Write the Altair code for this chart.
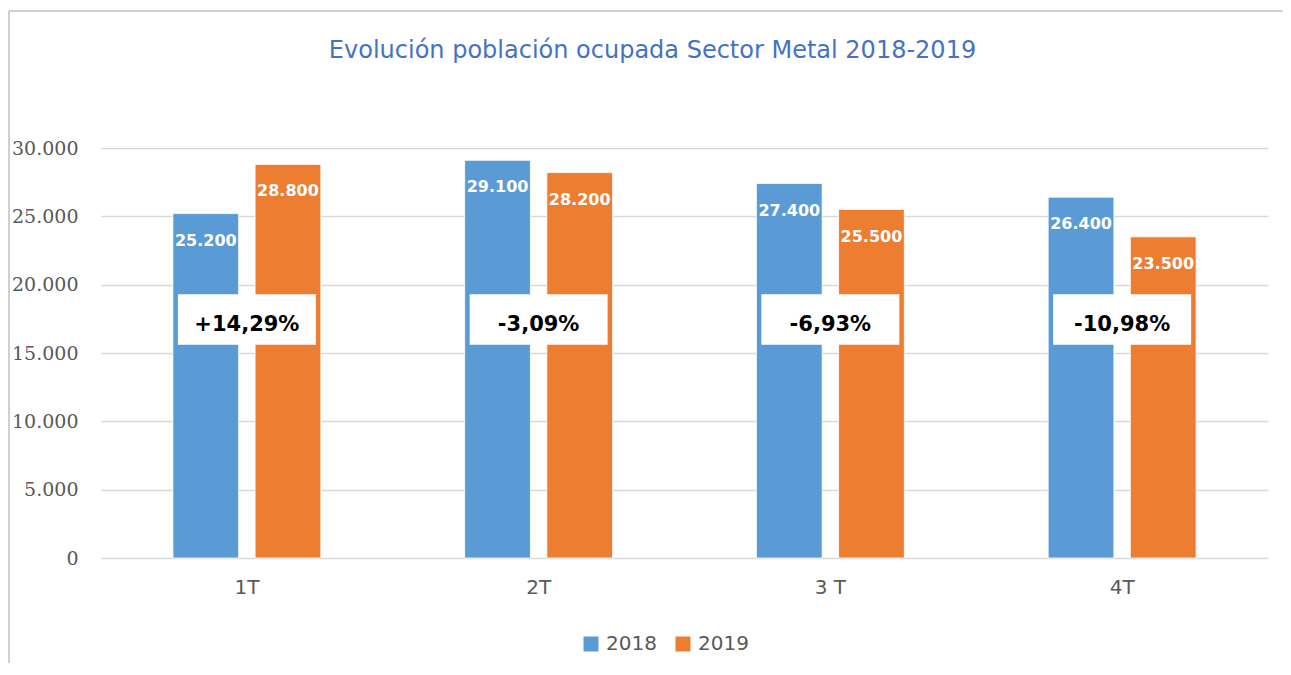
import altair as alt
import pandas as pd

# ---- data ----
quarters = ["1T", "2T", "3 T", "4T"]
years = ["2018", "2019"]
values_2018 = [25200, 29100, 27400, 26400]
values_2019 = [28800, 28200, 25500, 23500]

TITLE = "Evolución población ocupada Sector Metal 2018-2019"
BLUE = "#5B9BD5"
ORANGE = "#ED7D31"
GRID = "#D9D9D9"
TEXT_GRAY = "#595959"


def fmt_thousands(v):
    return f"{v:,.0f}".replace(",", ".")


rows = []
for q, a, b in zip(quarters, values_2018, values_2019):
    rows.append({"q": q, "year": "2018", "value": a, "label": fmt_thousands(a)})
    rows.append({"q": q, "year": "2019", "value": b, "label": fmt_thousands(b)})
bars_df = pd.DataFrame(rows)

pct_rows = []
for q, a, b in zip(quarters, values_2018, values_2019):
    pct = (b - a) / a * 100
    pct_rows.append({"q": q, "pct": f"{pct:+.2f}%".replace(".", ",")})
pct_df = pd.DataFrame(pct_rows)

# annotation box placement (data units on the y axis)
BOX_TOP = 19300
BOX_BOTTOM = 15600
PCT_TEXT_Y = 17050

x_enc = alt.X(
    "q:N",
    sort=quarters,
    title=None,
    scale=alt.Scale(paddingInner=0.493, paddingOuter=0.2465),
    axis=alt.Axis(
        labelFont="DejaVu Sans",
        labelFontSize=20,
        labelColor=TEXT_GRAY,
        labelPadding=19,
        labelAngle=0,
        ticks=False,
        domain=False,
        grid=False,
    ),
)
xoff_enc = alt.XOffset("year:N", sort=years, scale=alt.Scale(paddingInner=0.2, paddingOuter=0))
y_enc = alt.Y(
    "value:Q",
    title=None,
    scale=alt.Scale(domain=[0, 30000], nice=False),
    axis=alt.Axis(
        values=[0, 5000, 10000, 15000, 20000, 25000, 30000],
        labelExpr="replace(format(datum.value, ','), ',', '.')",
        labelFont="DejaVu Serif",
        labelFontSize=19,
        labelColor=TEXT_GRAY,
        labelPadding=23,
        ticks=False,
        domain=False,
        grid=True,
        gridColor=GRID,
        gridWidth=1.3,
    ),
)

base = alt.Chart(bars_df)

bars = base.mark_bar(stroke="white", strokeWidth=0.8).encode(
    x=x_enc,
    xOffset=xoff_enc,
    y=y_enc,
    color=alt.Color(
        "year:N",
        sort=years,
        scale=alt.Scale(domain=years, range=[BLUE, ORANGE]),
        legend=alt.Legend(
            title=None,
            orient="none",
            direction="horizontal",
            legendX=480,
            legendY=486,
            symbolType="square",
            symbolSize=225,
            symbolStrokeWidth=0,
            symbolOpacity=1,
            labelFont="DejaVu Sans",
            labelFontSize=20,
            labelColor=TEXT_GRAY,
            labelOffset=5,
            columnPadding=16,
        ),
    ),
)

value_labels = base.mark_text(
    color="white",
    font="DejaVu Sans",
    fontWeight="bold",
    fontSize=16,
    baseline="middle",
    dy=27,
).encode(
    x=alt.X("q:N", sort=quarters),
    xOffset=alt.XOffset("year:N", sort=years),
    y=alt.Y("value:Q"),
    text="label:N",
)

pct_base = alt.Chart(pct_df)
boxes = pct_base.mark_bar(color="white", width=138).encode(
    x=alt.X("q:N", sort=quarters),
    y=alt.datum(BOX_TOP),
    y2=alt.datum(BOX_BOTTOM),
)
pct_text = pct_base.mark_text(
    color="black",
    font="DejaVu Sans",
    fontWeight="bold",
    fontSize=21,
    baseline="middle",
).encode(
    x=alt.X("q:N", sort=quarters),
    y=alt.datum(PCT_TEXT_Y),
    text="pct:N",
)

frame_df = pd.DataFrame({"k": [0]})
top_line = alt.Chart(frame_df).mark_rule(color="#D0D0D0", strokeWidth=2).encode(
    x=alt.value(-92), x2=alt.value(1182), y=alt.value(-137)
)
left_line = alt.Chart(frame_df).mark_rule(color="#D0D0D0", strokeWidth=2).encode(
    x=alt.value(-92), y=alt.value(-137), y2=alt.value(520)
)

chart = (
    alt.layer(bars, value_labels, boxes, pct_text, top_line, left_line)
    .properties(
        width=1167,
        height=410,
        background="white",
        padding={"left": 93, "top": 140, "right": 15, "bottom": 105},
        autosize=alt.AutoSizeParams(type="none"),
        title=alt.TitleParams(
            text=TITLE,
            font="DejaVu Sans",
            fontSize=24,
            fontWeight="normal",
            color="#4472C4",
            anchor="middle",
            frame="group",
            dx=-32,
            offset=-53,
        ),
    )
    .configure_view(strokeWidth=0, stroke="transparent")
)

chart.save("out.html", embed_options={"renderer": "svg", "actions": False})
